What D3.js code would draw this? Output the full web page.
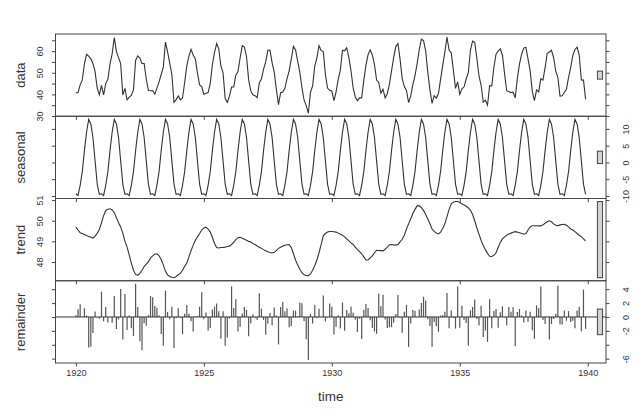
<!DOCTYPE html>
<html>
<head>
<meta charset="utf-8">
<script src="https://cdn.jsdelivr.net/npm/d3@7"></script>
<style>
  body { margin: 0; background: #fff; }
  text { font-family: "Liberation Sans", Arial, sans-serif; fill: #333; }
</style>
</head>
<body>
<div id="chart"></div>
<script>
// monthly series, Jan 1920 .. Dec 1939
var startYear = 1920;
var perYear = 12;

var dataValues = [
  40.6, 40.8, 44.4, 46.7, 54.1, 58.5, 57.7, 56.4, 54.3, 50.5, 42.9, 39.8,
  44.2, 39.8, 45.1, 47.0, 54.1, 58.7, 66.3, 59.9, 57.0, 54.2, 39.7, 42.8,
  37.5, 38.7, 39.5, 42.1, 55.7, 57.8, 56.8, 54.3, 54.3, 47.1, 41.8, 41.7,
  41.8, 40.1, 42.9, 45.8, 49.2, 52.7, 64.2, 59.6, 54.4, 49.2, 36.3, 37.6,
  39.3, 37.5, 38.3, 45.5, 53.2, 57.7, 60.8, 58.2, 56.4, 49.8, 44.4, 43.6,
  40.0, 40.5, 40.8, 45.1, 53.8, 59.4, 63.5, 61.0, 53.0, 50.0, 38.1, 36.3,
  39.2, 43.4, 43.4, 48.9, 50.6, 56.8, 62.5, 62.0, 57.5, 46.7, 41.6, 39.8,
  39.4, 38.5, 45.3, 47.1, 51.7, 55.0, 60.4, 60.5, 54.7, 50.3, 42.3, 35.2,
  40.8, 41.1, 42.8, 47.3, 50.9, 56.4, 62.2, 60.5, 55.4, 50.2, 43.0, 37.3,
  34.8, 31.3, 41.0, 43.9, 53.1, 56.9, 62.5, 60.3, 59.8, 49.2, 42.9, 41.9,
  41.6, 37.1, 41.2, 46.9, 51.2, 60.4, 60.1, 61.6, 57.0, 50.9, 43.0, 38.8,
  37.1, 38.4, 38.4, 46.5, 53.5, 58.4, 60.6, 58.2, 53.8, 46.6, 45.5, 40.6,
  42.4, 38.4, 40.3, 44.6, 50.9, 57.0, 62.1, 63.5, 56.3, 47.3, 43.6, 41.8,
  36.2, 39.3, 44.5, 48.7, 54.2, 60.8, 65.5, 64.9, 60.1, 50.2, 42.1, 35.8,
  39.4, 38.2, 40.4, 46.9, 53.4, 59.6, 66.5, 60.4, 59.2, 51.2, 42.8, 45.8,
  40.0, 42.6, 43.5, 47.1, 50.0, 60.5, 64.6, 64.0, 56.8, 48.6, 44.2, 36.4,
  37.3, 35.0, 44.0, 43.9, 52.7, 58.6, 60.0, 61.1, 58.1, 49.6, 41.6, 41.3,
  40.8, 41.0, 38.4, 47.4, 54.1, 58.6, 61.4, 61.8, 56.3, 50.9, 41.4, 37.1,
  42.1, 41.2, 47.3, 46.6, 52.4, 59.0, 59.6, 60.4, 57.0, 50.7, 47.8, 39.2,
  39.4, 40.9, 42.4, 47.8, 52.4, 58.0, 60.7, 61.8, 58.2, 46.7, 46.6, 37.8
];

// one value per month, repeats every year
var seasonalPattern = [-9.34, -9.85, -6.84, -2.75, 3.52, 9.00, 12.86, 11.48, 7.44, 0.46, -6.46, -9.51];

var trendValues = [
  49.69, 49.55, 49.42, 49.38, 49.33, 49.28, 49.24, 49.20, 49.16, 49.25, 49.40, 49.58,
  49.90, 50.25, 50.50, 50.56, 50.58, 50.52, 50.40, 50.15, 49.90, 49.70, 49.40, 49.00,
  48.72, 48.35, 47.95, 47.60, 47.40, 47.35, 47.45, 47.60, 47.78, 47.90, 48.00, 48.20,
  48.30, 48.38, 48.40, 48.30, 48.12, 47.85, 47.55, 47.38, 47.30, 47.26, 47.24, 47.30,
  47.38, 47.45, 47.60, 47.78, 47.95, 48.25, 48.55, 48.82, 49.05, 49.22, 49.38, 49.55,
  49.65, 49.69, 49.60, 49.45, 49.20, 48.90, 48.70, 48.68, 48.70, 48.70, 48.72, 48.75,
  48.77, 48.85, 48.95, 49.08, 49.18, 49.20, 49.15, 49.10, 49.05, 49.00, 48.97, 48.90,
  48.85, 48.78, 48.72, 48.66, 48.60, 48.55, 48.50, 48.46, 48.44, 48.47, 48.55, 48.66,
  48.72, 48.77, 48.81, 48.84, 48.85, 48.70, 48.40, 48.10, 47.85, 47.65, 47.48, 47.38,
  47.35, 47.34, 47.42, 47.60, 47.82, 48.10, 48.45, 48.85, 49.27, 49.38, 49.45, 49.48,
  49.48, 49.47, 49.45, 49.40, 49.35, 49.30, 49.22, 49.12, 49.02, 48.93, 48.85, 48.72,
  48.60, 48.50, 48.40, 48.25, 48.10, 48.10, 48.20, 48.30, 48.45, 48.57, 48.56, 48.55,
  48.54, 48.62, 48.72, 48.83, 48.85, 48.83, 48.82, 48.85, 48.98, 49.10, 49.30, 49.60,
  49.85, 50.10, 50.35, 50.55, 50.72, 50.73, 50.63, 50.50, 50.30, 50.08, 49.85, 49.60,
  49.48, 49.40, 49.36, 49.45, 49.62, 49.85, 50.20, 50.55, 50.82, 50.90, 50.93, 50.93,
  50.88, 50.82, 50.76, 50.70, 50.62, 50.52, 50.30, 50.00, 49.65, 49.35, 49.05, 48.80,
  48.60, 48.42, 48.28, 48.27, 48.32, 48.45, 48.70, 48.95, 49.12, 49.22, 49.30, 49.36,
  49.40, 49.44, 49.47, 49.45, 49.42, 49.38, 49.35, 49.38, 49.55, 49.70, 49.76, 49.76,
  49.76, 49.75, 49.75, 49.80, 49.88, 49.95, 50.00, 49.95, 49.85, 49.78, 49.76, 49.80,
  49.82, 49.83, 49.78, 49.70, 49.60, 49.55, 49.47, 49.38, 49.30, 49.23, 49.12, 49.02
];

var remainderValues = [
   0.25,  1.10,  1.82,  0.07,  1.25,  0.22, -4.40, -4.28, -2.30,  0.79, -0.04, -0.27,
   3.64, -0.60,  1.44, -0.81,  0.00, -0.82,  3.04, -1.73, -0.34,  4.04, -3.24,  3.31,
  -1.88,  0.20, -1.61, -2.75,  4.78,  1.45, -3.51, -4.78, -0.92, -1.26,  0.26,  3.01,
   2.84,  1.57,  1.34,  0.25, -2.44, -4.15,  3.79,  0.74, -0.34,  1.48, -4.48, -0.19,
   1.26, -0.10, -2.46,  0.47,  1.73,  0.45, -0.61, -2.10, -0.09,  0.12,  1.48,  3.56,
  -0.31,  0.66, -1.96, -1.60,  1.08,  1.50,  1.94,  0.84, -3.14,  0.84, -4.16, -2.94,
  -0.23,  4.40,  1.29,  2.57, -2.10, -1.40,  0.49,  1.42,  1.01, -2.76, -0.91,  0.41,
  -0.11, -0.43,  3.42,  1.19, -0.42, -2.55, -0.96,  0.56, -1.18,  1.37,  0.21, -3.95,
   1.42,  2.18,  0.83,  1.21, -1.47, -1.30,  0.94,  0.92,  0.11,  2.09,  1.98, -0.57,
  -3.21, -6.19,  0.42, -0.95,  1.76, -0.20,  1.19, -0.03,  3.09, -0.64, -0.09,  1.93,
   1.46, -2.52, -1.41,  0.25, -1.67,  2.10, -1.98,  1.00,  0.54,  1.51,  0.61, -0.41,
  -2.16, -0.25, -3.16,  1.00,  1.88,  1.30, -0.46, -1.58, -2.09, -2.43,  3.40,  1.56,
   3.20, -0.37, -1.58, -1.48, -1.47, -0.83,  0.42,  3.17, -0.12, -2.26,  0.76,  1.71,
  -4.31, -0.95,  0.99,  0.90, -0.04,  1.07,  2.01,  2.92,  2.36, -0.34, -1.29, -4.29,
  -0.74, -1.35, -2.12,  0.20,  0.26,  0.75,  3.44, -1.63,  0.94, -0.16, -1.67,  4.38,
  -1.54,  1.63, -0.42, -0.85, -4.14,  0.98,  1.44,  2.52, -0.29, -1.21,  1.61, -2.89,
  -1.96, -3.57,  2.56, -1.62,  0.86,  1.15, -1.56,  0.67,  1.54, -0.08, -1.24,  1.45,
   0.74,  1.41, -4.23,  0.70,  1.16,  0.22, -0.81,  0.94, -0.69,  0.74, -1.90, -3.15,
   1.68,  1.30,  4.39, -0.45, -1.00,  0.05, -3.26, -1.03, -0.29,  0.46,  4.50, -1.09,
  -1.08,  0.92, -0.54,  0.85, -0.72, -0.55, -1.63,  0.94,  1.46, -2.07,  3.94, -1.71
];

var panelLabels = ["data", "seasonal", "trend", "remainder"];
var xTicks = [1920, 1925, 1930, 1935, 1940];
var yTicks = [
  [30, 35, 40, 45, 50, 55, 60, 65],
  [-10, -5, 0, 5, 10],
  [48, 49, 50, 51],
  [-6, -4, -2, 0, 2, 4]
];
var yTickLabels = [
  [30, 40, 50, 60],
  [-10, -5, 0, 5, 10],
  [48, 49, 50, 51],
  [-6, -2, 0, 2, 4]
];

var svgWidth = 639;
var svgHeight = 416;
var margin = { top: 34, right: 33, bottom: 53, left: 55.5 };
var width = svgWidth - margin.left - margin.right;
var height = svgHeight - margin.top - margin.bottom;
var panelH = height / 4;

var svg = d3.select("#chart")
  .append("svg")
  .attr("width", svgWidth)
  .attr("height", svgHeight);

svg.append("rect").attr("width", svgWidth).attr("height", svgHeight).attr("fill", "#fff");

var seasonalValues = dataValues.map((d, i) => seasonalPattern[i % perYear]);
var series = [dataValues, seasonalValues, trendValues, remainderValues];
var time = dataValues.map((d, i) => startYear + i / perYear);

// R style axis limits: range padded by 4% each side
function padded(ext) {
  var r = ext[1] - ext[0];
  return [ext[0] - 0.04 * r, ext[1] + 0.04 * r];
}

var xScale = d3.scaleLinear()
  .domain(padded(d3.extent(time)))
  .range([0, width]);

// height of the grey range bars = smallest range of the four
var minRange = d3.min(series, s => d3.max(s) - d3.min(s));
var dx = width / 64;

var lineColor = "#333";

series.forEach(function(values, i) {
  var g = svg.append("g")
    .attr("transform", `translate(${margin.left}, ${margin.top + i * panelH})`);

  var ext = d3.extent(values);
  var yScale = d3.scaleLinear()
    .domain(padded(ext))
    .range([panelH, 0]);

  if (i < 3) {
    var line = d3.line()
      .x((d, j) => xScale(time[j]))
      .y(d => yScale(d));
    g.append("path")
      .datum(values)
      .attr("d", line)
      .attr("fill", "none")
      .attr("stroke", lineColor)
      .attr("stroke-width", 1.1);
  } else {
    g.selectAll("line.bar")
      .data(values)
      .enter()
      .append("line")
      .attr("class", "bar")
      .attr("x1", (d, j) => xScale(time[j]))
      .attr("x2", (d, j) => xScale(time[j]))
      .attr("y1", yScale(0))
      .attr("y2", d => yScale(d))
      .attr("stroke", "#555")
      .attr("stroke-width", 1.2);
    g.append("line")
      .attr("x1", 0).attr("x2", width)
      .attr("y1", yScale(0)).attr("y2", yScale(0))
      .attr("stroke", lineColor)
      .attr("stroke-width", 1);
  }

  // range bar
  var mid = (ext[0] + ext[1]) / 2;
  g.append("rect")
    .attr("x", width - dx)
    .attr("width", 0.6 * dx)
    .attr("y", yScale(mid + minRange / 2))
    .attr("height", yScale(mid - minRange / 2) - yScale(mid + minRange / 2))
    .attr("fill", "#d3d3d3")
    .attr("stroke", "#444")
    .attr("stroke-width", 1);

  // box
  g.append("rect")
    .attr("width", width)
    .attr("height", panelH)
    .attr("fill", "none")
    .attr("stroke", "#444")
    .attr("stroke-width", 1);

  var labelsRight = i % 2 === 1;
  var shown = yTickLabels[i];
  var fmt = d => shown.indexOf(d) >= 0 ? d : "";

  var leftAxis = d3.axisLeft(yScale).tickValues(yTicks[i]).tickSize(3.5)
    .tickFormat(labelsRight ? "" : fmt);
  var rightAxis = d3.axisRight(yScale).tickValues(yTicks[i]).tickSize(3.5)
    .tickFormat(labelsRight ? fmt : "");
  var bottomAxis = d3.axisBottom(xScale).tickValues(xTicks).tickSize(3.5)
    .tickFormat(i === 3 ? d3.format("d") : "");

  var ga = g.append("g").call(leftAxis);
  var gr = g.append("g").attr("transform", `translate(${width}, 0)`).call(rightAxis);
  var gb = g.append("g").attr("transform", `translate(0, ${panelH})`).call(bottomAxis);

  [ga, gr, gb].forEach(function(ax) {
    ax.select(".domain").remove();
    ax.selectAll("line").attr("stroke", "#444");
    ax.selectAll("text").style("font-size", "9px").attr("fill", "#333");
  });

  // y tick labels run parallel to the axis
  ga.selectAll("text")
    .attr("x", null).attr("dy", "0.35em")
    .attr("text-anchor", "middle")
    .attr("transform", "translate(-15.5, 0) rotate(-90)");
  gr.selectAll("text")
    .attr("x", null).attr("dy", "0.35em")
    .attr("text-anchor", "middle")
    .attr("transform", "translate(19.5, 0) rotate(-90)");

  // panel name
  svg.append("text")
    .attr("transform", `translate(20, ${margin.top + i * panelH + panelH / 2}) rotate(-90)`)
    .attr("dy", "0.35em")
    .attr("text-anchor", "middle")
    .style("font-size", "13px")
    .text(panelLabels[i]);
});

svg.append("text")
  .attr("x", margin.left + width / 2)
  .attr("y", 401)
  .attr("text-anchor", "middle")
  .style("font-size", "13.5px")
  .text("time");
</script>
</body>
</html>
